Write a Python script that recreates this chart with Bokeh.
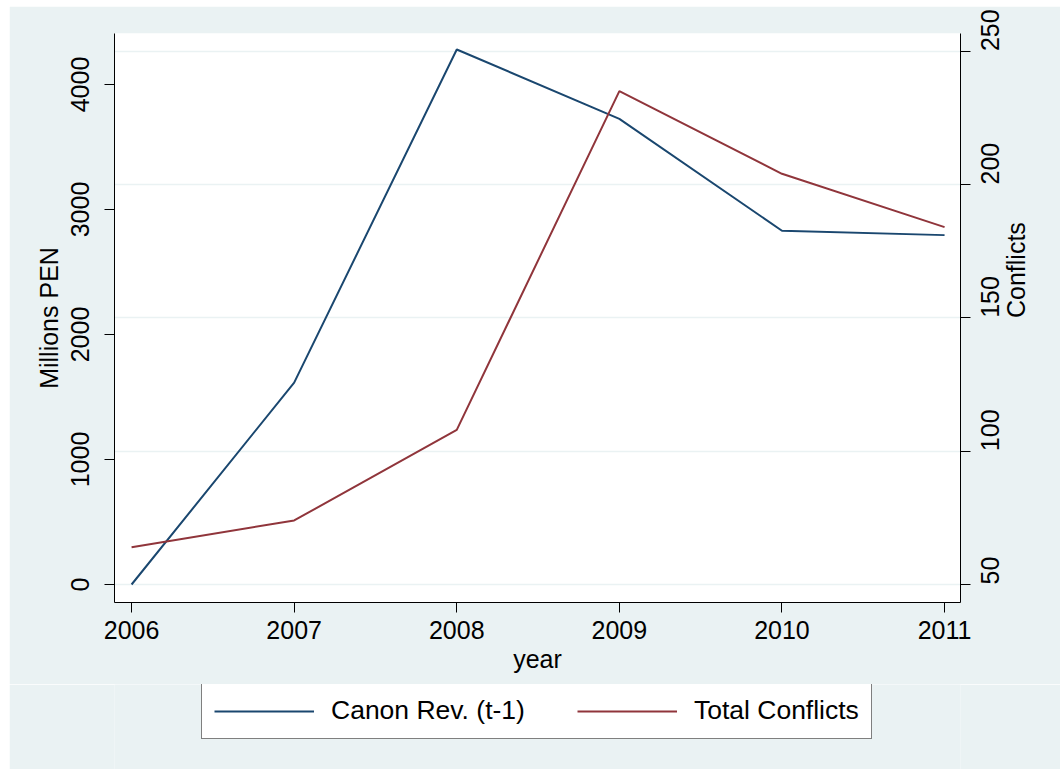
import math
from bokeh.plotting import figure
from bokeh.layouts import column
from bokeh.models import (Range1d, LinearAxis, FixedTicker, Grid, Legend, LegendItem)
from bokeh.embed import file_html
from bokeh.resources import INLINE

years = [2006, 2007, 2008, 2009, 2010, 2011]
canon_rev = [0, 1615, 4280, 3725, 2830, 2795]
total_conflicts = [64, 74, 108, 235, 204, 184]

left_ticks = [0, 1000, 2000, 3000, 4000]
right_ticks = [50, 100, 150, 200, 250]
series_names = ["Canon Rev. (t-1)", "Total Conflicts"]

BG = "#EAF2F3"
BLUE = "#1A476F"
RED = "#90353B"
FONT = "Liberation Sans"
FS = "25px"

p = figure(frame_width=846, frame_height=569, output_backend="svg", toolbar_location=None,
           x_range=Range1d(2005.895, 2011.098), y_range=Range1d(-144, 4408),
           min_border_left=105, min_border_right=100, min_border_top=27, min_border_bottom=82)
p.margin = (6, 0, 0, 9)
p.extra_y_ranges = {"conf": Range1d(43.25, 256.6)}
p.border_fill_color = BG
p.background_fill_color = "white"
p.outline_line_color = None
p.xgrid.visible = False
p.ygrid.visible = False

def style_axis(ax):
    ax.axis_line_color = "black"
    ax.axis_line_width = 1
    ax.major_tick_line_color = "black"
    ax.major_tick_out = 10
    ax.major_tick_in = 0
    ax.minor_tick_line_color = None
    ax.major_label_text_font = FONT
    ax.major_label_text_font_size = FS
    ax.major_label_text_color = "black"
    ax.axis_label_text_font = FONT
    ax.axis_label_text_font_size = FS
    ax.axis_label_text_font_style = "normal"
    ax.axis_label_text_color = "black"

xa = p.xaxis[0]
xa.ticker = FixedTicker(ticks=years)
xa.axis_label = "year"
style_axis(xa)
xa.major_label_standoff = 8
xa.axis_label_standoff = 3

ya = p.yaxis[0]
ya.ticker = FixedTicker(ticks=left_ticks)
ya.axis_label = "Millions PEN"
style_axis(ya)
ya.major_label_orientation = "vertical"
ya.major_label_standoff = 16
ya.axis_label_standoff = 5

ra = LinearAxis(y_range_name="conf", ticker=FixedTicker(ticks=right_ticks), axis_label="Conflicts")
style_axis(ra)
ra.major_label_orientation = math.pi / 2
ra.major_label_standoff = 20
ra.axis_label_standoff = 4
ra.axis_label_orientation = math.pi / 2
p.add_layout(ra, "right")

grid = Grid(dimension=1, ticker=FixedTicker(ticks=right_ticks), y_range_name="conf",
            grid_line_color=BG, grid_line_width=1.5)
p.add_layout(grid, "center")

p.line(years, canon_rev, line_color=BLUE, line_width=2)
p.line(years, total_conflicts, line_color=RED, line_width=2, y_range_name="conf")

# legend strip below the chart (series re-drawn off-view only to provide legend swatches)
p2 = figure(width=1051, height=85, output_backend="svg", toolbar_location=None,
            x_range=Range1d(0, 1), y_range=Range1d(0, 1),
            min_border_left=0, min_border_right=0, min_border_top=0, min_border_bottom=0)
p2.margin = (0, 0, 0, 9)
p2.axis.visible = False
p2.grid.visible = False
p2.outline_line_color = None
p2.background_fill_color = BG
p2.border_fill_color = BG
s1 = p2.line(years, canon_rev, line_color=BLUE, line_width=2)
s2 = p2.line(years, total_conflicts, line_color=RED, line_width=2)

legend = Legend(items=[LegendItem(label=series_names[0], renderers=[s1]),
                       LegendItem(label=series_names[1], renderers=[s2])],
                orientation="horizontal", location=(87, 30),
                border_line_color="black", border_line_width=1,
                background_fill_color="white", background_fill_alpha=1.0,
                label_text_font=FONT, label_text_font_size="26.5px", label_text_color="black",
                glyph_width=100, glyph_height=26, label_height=26,
                label_standoff=17, spacing=52, padding=12, margin=0)
p2.add_layout(legend, "center")

layout = column(p, p2, spacing=0)
open("out.html", "w").write(file_html(layout, INLINE))
